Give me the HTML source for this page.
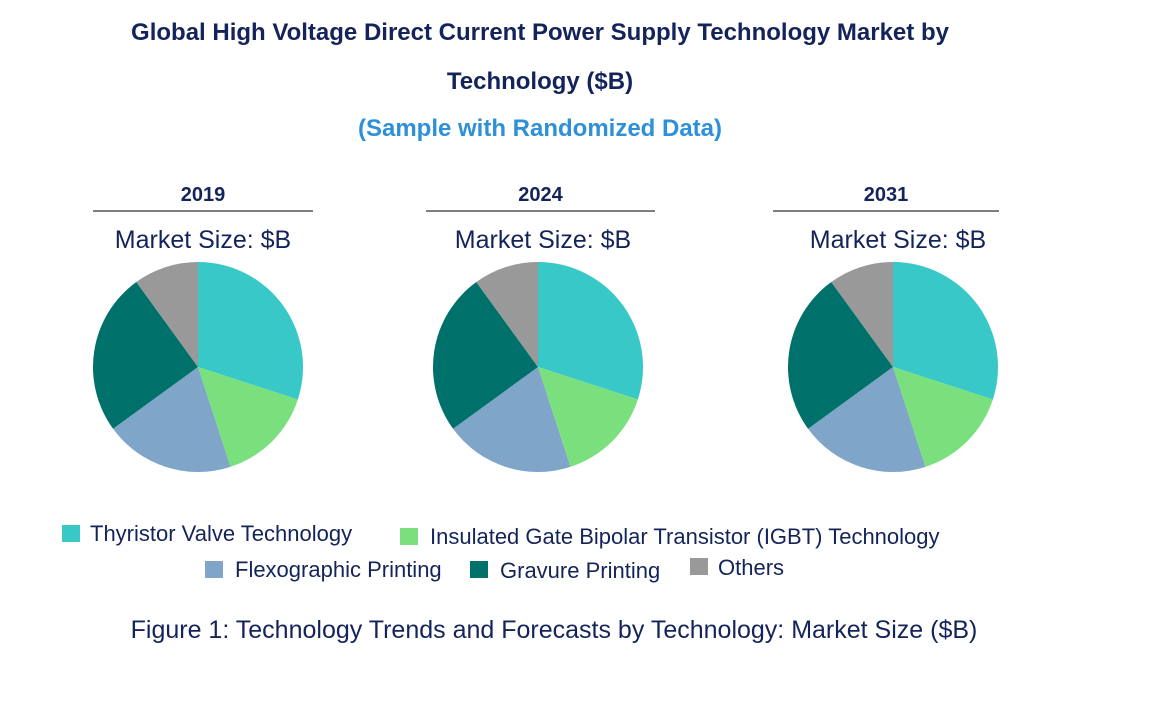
<!DOCTYPE html>
<html><head><meta charset="utf-8"><style>
body{margin:0;width:1170px;height:723px;background:#fff;font-family:"Liberation Sans",Arial,sans-serif;overflow:hidden}
svg text{font-family:"Liberation Sans",Arial,sans-serif}
</style></head><body>
<svg id="chart" width="1170" height="723">
<text x="540" y="40" text-anchor="middle" font-size="24" font-weight="bold" fill="#14245A">Global High Voltage Direct Current Power Supply Technology Market by</text>
<text x="540" y="89" text-anchor="middle" font-size="24" font-weight="bold" fill="#14245A">Technology ($B)</text>
<text x="540" y="136" text-anchor="middle" font-size="24" font-weight="bold" fill="#2E90D8">(Sample with Randomized Data)</text>
<g id="pies"></g>
<g>
<rect x="62" y="525" width="18" height="17" fill="#38C8C8"/>
<text x="90" y="541" font-size="22" fill="#14245A">Thyristor Valve Technology</text>
<rect x="400" y="528" width="18" height="17" fill="#7AE07D"/>
<text x="430" y="544" font-size="22" fill="#14245A">Insulated Gate Bipolar Transistor (IGBT) Technology</text>
<rect x="205" y="561" width="18" height="17" fill="#7FA5C9"/>
<text x="235" y="577" font-size="22" fill="#14245A">Flexographic Printing</text>
<rect x="470" y="561" width="18" height="17" fill="#00706A"/>
<text x="500" y="578" font-size="22" fill="#14245A">Gravure Printing</text>
<rect x="690" y="558" width="18" height="17" fill="#999999"/>
<text x="718" y="575" font-size="22" fill="#14245A">Others</text>
</g>
<text x="554" y="638" text-anchor="middle" font-size="25" fill="#14245A">Figure 1: Technology Trends and Forecasts by Technology: Market Size ($B)</text>
</svg>
<script>
const years = ["2019","2024","2031"];
const segments = ["Thyristor Valve Technology","IGBT Technology","Flexographic Printing","Gravure Printing","Others"];
const values2019 = [30,15,20,25,10];
const values2024 = [30,15,20,25,10];
const values2031 = [30,15,20,25,10];
const colors = ["#38C8C8","#7AE07D","#7FA5C9","#00706A","#999999"];
const allValues = [values2019,values2024,values2031];
const layout = [{cx:198,l:93,r:313},{cx:538,l:426,r:655},{cx:893,l:773,r:999}];
const NS="http://www.w3.org/2000/svg";
const g=document.getElementById('pies');
const cy=367,R=105;
function el(t,a){const e=document.createElementNS(NS,t);for(const k in a)e.setAttribute(k,a[k]);return e;}
years.forEach((y,i)=>{
  const L=layout[i];
  const hd=el('text',{x:(L.l+L.r)/2,y:201,'text-anchor':'middle','font-size':20,'font-weight':'bold',fill:'#14245A'});
  hd.textContent=y;
  
  
  g.appendChild(hd);
  const ln=el('line',{x1:L.l,x2:L.r,y1:211,y2:211,stroke:'#333','stroke-width':1.2});
  
  
  g.appendChild(ln);
  const ms=el('text',{x:L.cx+5,y:248,'text-anchor':'middle','font-size':25,fill:'#14245A'});
  ms.textContent='Market Size: $B';
  
  
  g.appendChild(ms);
  const vals=allValues[i];const tot=vals.reduce((a,b)=>a+b,0);
  let a0=0;
  vals.forEach((v,j)=>{
    const a1=a0+v/tot*2*Math.PI;
    const x0=L.cx+R*Math.sin(a0),y0=cy-R*Math.cos(a0);
    const x1=L.cx+R*Math.sin(a1),y1=cy-R*Math.cos(a1);
    const large=(a1-a0)>Math.PI?1:0;
    const p=el('path',{d:`M${L.cx},${cy}L${x0},${y0}A${R},${R} 0 ${large} 1 ${x1},${y1}Z`,fill:colors[j]});
    
    
    g.appendChild(p);
    a0=a1;
  });
});
</script>
</body></html>
